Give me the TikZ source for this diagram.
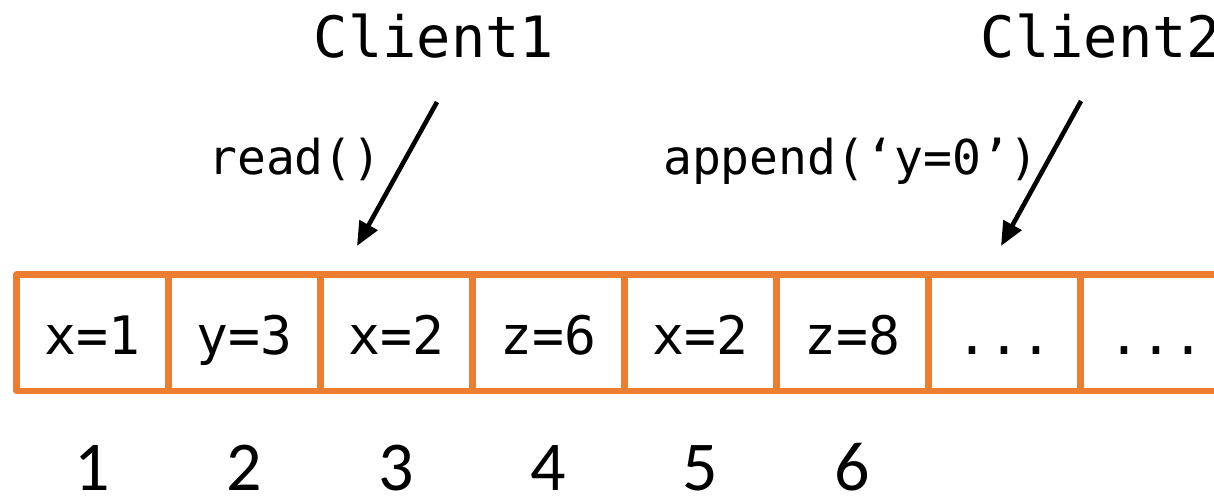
\documentclass[tikz,border=0pt]{standalone}
\usepackage{fontspec}
\setmonofont{DejaVu Sans Mono}
\newfontfamily\idxfont{Carlito}
\usetikzlibrary{arrows.meta}
\definecolor{logorange}{HTML}{ED7D31}
\newcommand{\moredots}{...}

\begin{document}
\begin{tikzpicture}[
  x=0.5pt,
  y=-0.5pt,
  line join=round,
  cell/.style={draw=logorange,line width=3.1pt,minimum width=76pt,minimum height=58.25pt,
    inner sep=0pt,text height=26pt,text depth=3.8pt,font=\ttfamily\fontsize{26.5}{26.5}\selectfont},
  client/.style={anchor=base,inner sep=0pt,font=\ttfamily\fontsize{28.5}{28.5}\selectfont},
  op/.style={anchor=base,inner sep=0pt,font=\ttfamily\fontsize{24}{24}\selectfont},
  idx/.style={anchor=base,inner sep=0pt,text depth=0pt,font=\idxfont\fontsize{35}{35}\selectfont},
  call/.style={draw=black,line width=2.3pt,-{Triangle[length=12pt,width=10pt]}}
]
  \useasboundingbox (0,0) rectangle (1214,496);

  % Log entries and their offsets.
  \foreach \i/\txt in {1/x=1,2/y=3,3/x=2,4/z=6,5/x=2,6/z=8,7/\moredots,8/\moredots} {
    \node[cell] (e\i) at ({16.5+152*(\i-0.5)},332.75) {\txt};
  }
  \foreach \i in {1,2,3,4,5,6} {
    \node[idx] (n\i) at ({16.5+152*(\i-0.5)},490) {\i};
  }

  % Clients and their calls.
  \node[client] (cl1) at (434,58) {Client1};
  \node[client] (cl2) at (1101,58) {Client2};
  \node[op] (rd) at (295,175) {read()};
  \node[op] (ap) at (851,175) {append(‘y=0’)};

  \coordinate (rdfrom) at (437,102);
  \coordinate (rdto) at (357,246);
  \coordinate (apfrom) at (1081,101);
  \coordinate (apto) at (1001,246);
  \draw[call] (rdfrom) -- (rdto);
  \draw[call] (apfrom) -- (apto);
\end{tikzpicture}
\end{document}
